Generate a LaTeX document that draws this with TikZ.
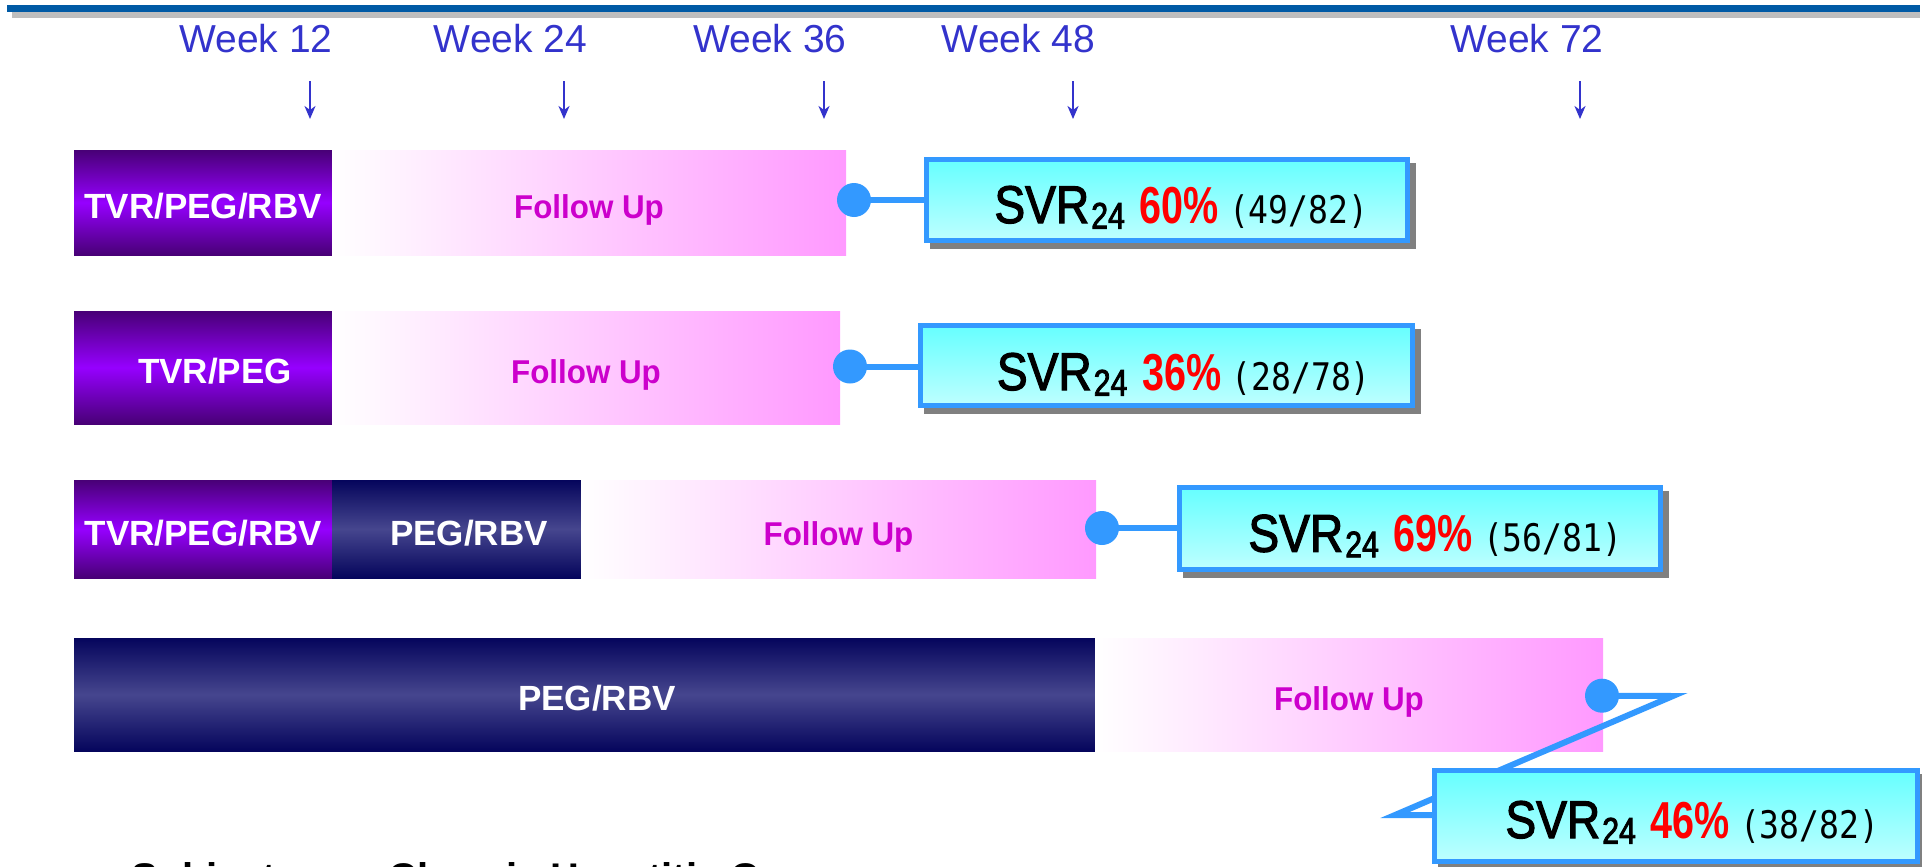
\documentclass[tikz,border=0pt]{standalone}
\usepackage{fontspec}
\setmainfont{Liberation Sans}
\newfontfamily\fsvr{Liberation Sans}[FakeStretch=0.87,FakeBold=2.2]
\newfontfamily\fsubd{Liberation Sans}[FakeStretch=0.82,FakeBold=2.2]
\newfontfamily\fpct{Liberation Sans}[FakeStretch=0.76]
\newfontfamily\ffu{Liberation Sans}[FakeStretch=0.95]
\newfontfamily\fnum{DejaVu Sans Mono}[FakeStretch=0.87]
\usetikzlibrary{fit,calc,arrows.meta}

\definecolor{ruleblue}{RGB}{0,90,165}
\definecolor{rulegrey}{RGB}{190,190,190}
\definecolor{weekblue}{RGB}{51,51,204}
\definecolor{tvrdark}{RGB}{72,0,118}
\definecolor{tvrlight}{RGB}{150,0,255}
\definecolor{pegdark}{RGB}{5,5,92}
\definecolor{peglight}{RGB}{70,70,142}
\definecolor{fupink}{RGB}{255,153,255}
\definecolor{fumag}{RGB}{204,0,204}
\definecolor{linkblue}{RGB}{51,153,255}
\definecolor{cyantop}{RGB}{102,255,255}
\definecolor{cyanbot}{RGB}{190,255,255}
\definecolor{shadowgrey}{RGB}{128,128,128}
\definecolor{pctred}{RGB}{255,0,0}

\pgfdeclarelayer{bars}
\pgfdeclarelayer{links}
\pgfsetlayers{bars,links,main}

% SVR result line: rate in red, counts in a half-width mono face
\newcommand\svrline[2]{%
  {\fsvr\fontsize{26.5pt}{30pt}\selectfont SVR}\kern1pt
  \raisebox{-2.8pt}{\fsubd\fontsize{18.5pt}{20pt}\selectfont 24}\kern7.5pt
  {\fpct\bfseries\fontsize{26pt}{28pt}\selectfont\color{pctred}#1\%}\kern5pt
  {\fnum\fontsize{19pt}{21pt}\selectfont(#2)}}

\tikzset{
  slab/.style={inner sep=0pt, outer sep=0pt, draw=none},
  tvrbar/.style={slab, top color=tvrdark, bottom color=tvrdark, middle color=tvrlight},
  pegbar/.style={slab, top color=pegdark, bottom color=pegdark, middle color=peglight},
  fubar/.style={slab, left color=white, right color=fupink},
  barlbl/.style={anchor=base, inner sep=0pt, text=white, font=\bfseries\fontsize{17.5pt}{20pt}\selectfont},
  fulbl/.style={anchor=base, inner sep=0pt, text=fumag, font=\ffu\bfseries\fontsize{16.5pt}{19pt}\selectfont},
  weeklbl/.style={anchor=base, inner sep=0pt, text=weekblue, font=\fontsize{19.5pt}{22pt}\selectfont},
  weekarr/.style={draw=weekblue, line width=1.4pt, -{Stealth[length=6.5pt,width=5.5pt,inset=2pt]}},
  svrbox/.style={inner sep=0pt, draw=linkblue, line width=2.5pt,
    top color=cyantop, bottom color=cyanbot,
    preaction={fill=shadowgrey, draw=shadowgrey, line width=2.5pt,
      transform canvas={xshift=3pt, yshift=-3pt}}},
  svrtxt/.style={anchor=base west, inner sep=0pt},
  enddot/.style={circle, fill=linkblue, inner sep=0pt, minimum size=17pt},
  link/.style={draw=linkblue, line width=3pt},
  notelbl/.style={anchor=base west, inner sep=0pt, font=\bfseries\fontsize{20pt}{24pt}\selectfont}
}

\begin{document}
\begin{tikzpicture}[x=0.5pt, y=-0.5pt]
\useasboundingbox (0,0) rectangle (1922,867);
\clip (0,0) rectangle (1922,867);

% title rule
\fill[rulegrey] (12,11.7) rectangle (1920,17.5);
\fill[ruleblue] (7,5) rectangle (1920,11.7);

% week markers
\node[weeklbl] (w12) at (256,53) {Week 12};
\node[weeklbl] (w24) at (510.5,53) {Week 24};
\node[weeklbl] (w36) at (770,53) {Week 36};
\node[weeklbl] (w48) at (1018.5,53) {Week 48};
\node[weeklbl] (w72) at (1527,53) {Week 72};
\foreach \n/\x in {12/310,24/564,36/824,48/1073,72/1580}{
  \coordinate (a\n s) at (\x,81);
  \coordinate (a\n e) at (\x,119);
  \draw[weekarr] (a\n s) -- (a\n e);
}

% treatment and follow-up bars
\begin{pgfonlayer}{bars}
\node[tvrbar, fit={(74,150) (332,255)}] (r1a) {};
\node[fubar,  fit={(332,150) (846,255)}] (r1b) {};
\node[tvrbar, fit={(74,311) (332,424)}] (r2a) {};
\node[fubar,  fit={(332,311) (840,424)}] (r2b) {};
\node[tvrbar, fit={(74,480) (332,578)}] (r3a) {};
\node[pegbar, fit={(332,480) (581,578)}] (r3b) {};
\node[fubar,  fit={(581,480) (1096,578)}] (r3c) {};
\node[pegbar, fit={(74,638) (1095,751)}] (r4a) {};
\node[fubar,  fit={(1095,638) (1603,751)}] (r4b) {};
\end{pgfonlayer}

\node[barlbl] (l1a) at ($(r1a.center)+(0,16)$) {TVR/PEG/RBV};
\node[fulbl]  (l1b) at ($(r1b.center)+(0,16)$) {Follow Up};
\node[barlbl] (l2a) at ($(r2a.center)+(12,16)$) {TVR/PEG};
\node[fulbl]  (l2b) at ($(r2b.center)+(0,16)$) {Follow Up};
\node[barlbl] (l3a) at ($(r3a.center)+(0.5,16)$) {TVR/PEG/RBV};
\node[barlbl] (l3b) at ($(r3b.center)+(12.5,16)$) {PEG/RBV};
\node[fulbl]  (l3c) at ($(r3c.center)+(0,16)$) {Follow Up};
\node[barlbl] (l4a) at ($(r4a.center)+(12.5,15.5)$) {PEG/RBV};
\node[fulbl]  (l4b) at ($(r4b.center)+(0,15.5)$) {Follow Up};

% result call-outs
\node[svrbox, fit={(926.5,159.5) (1407.5,240.5)}] (s1) {};
\node[svrbox, fit={(920.5,325.5) (1412.5,405.5)}] (s2) {};
\node[svrbox, fit={(1179.5,487.5) (1660.5,569.5)}] (s3) {};
\node[svrbox, fit={(1434.5,770.5) (1917.5,861.5)}] (s4) {};

\node[svrtxt] (v1) at (994,223) {\svrline{60}{49/82}};
\node[svrtxt] (v2) at (996.5,390) {\svrline{36}{28/78}};
\node[svrtxt] (v3) at (1248,551.7) {\svrline{69}{56/81}};
\node[svrtxt] (v4) at (1505,838) {\svrline{46}{38/82}};

\node[enddot] (d1) at (854,200) {};
\node[enddot] (d2) at (850,366.5) {};
\node[enddot] (d3) at (1102,528) {};
\node[enddot] (d4) at (1602,695.7) {};

\coordinate (k1) at (1673,696);
\coordinate (k2) at (1395,815);

\begin{pgfonlayer}{links}
\draw[link] (d1.center) -- (d1.center -| s1.west);
\draw[link] (d2.center) -- (d2.center -| s2.west);
\draw[link] (d3.center) -- (d3.center -| s3.west);
\draw[link] (d4.center) -- (k1) -- (k2) -- (k2 -| s4.west);
\end{pgfonlayer}

% study population note
\node[notelbl] (subj) at (131,891) {Subjects:};
\node[notelbl] (cond) at (388,891) {Chronic Hepatitis C};
\end{tikzpicture}
\end{document}
